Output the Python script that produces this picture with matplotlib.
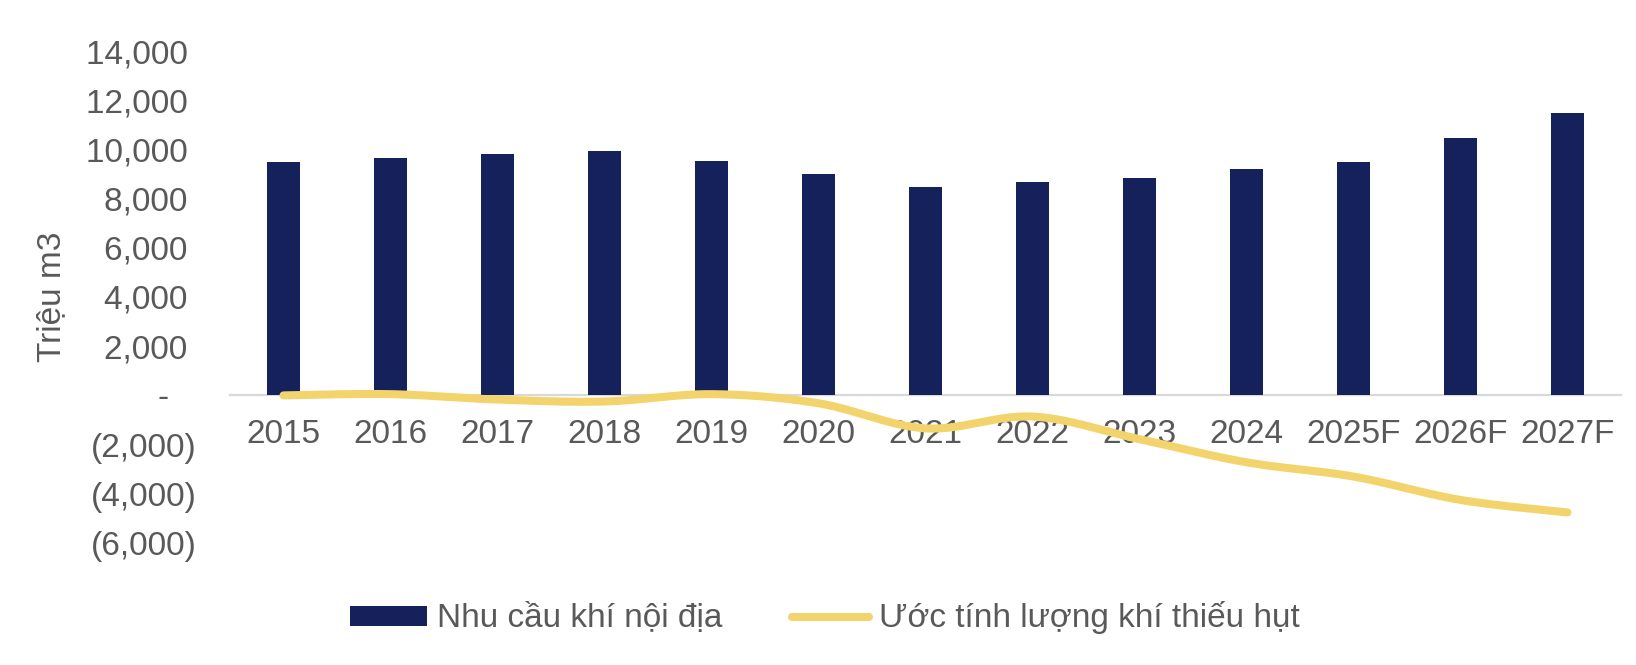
import numpy as np
import matplotlib
matplotlib.use("Agg")
import matplotlib.pyplot as plt
from matplotlib.patches import Patch
from matplotlib.lines import Line2D
from matplotlib.ticker import FuncFormatter

plt.rcParams['font.family'] = ['Liberation Sans', 'DejaVu Sans']

# Data (million m3)
years = ['2015', '2016', '2017', '2018', '2019', '2020', '2021', '2022',
         '2023', '2024', '2025F', '2026F', '2027F']
demand = [9470, 9650, 9800, 9940, 9530, 8980, 8490, 8680, 8840, 9200, 9480, 10450, 11470]
shortage = [0, 50, -170, -250, 50, -320, -1340, -860, -1780, -2720, -3300, -4250, -4760]

bar_color = '#14215B'
line_color = '#F3D36C'
text_color = '#595959'


def smooth(xs, ys, n=30):
    # Excel-style smoothed line (cubic Bezier through the points)
    p = np.column_stack([xs, ys]).astype(float)
    p = np.vstack([p[0], p, p[-1]])
    out = []
    t = np.linspace(0, 1, n)[:, None]
    for i in range(1, len(p) - 2):
        p0, p3 = p[i], p[i + 1]
        c1 = p0 + (p[i + 1] - p[i - 1]) / 6
        c2 = p3 - (p[i + 2] - p[i]) / 6
        seg = ((1 - t) ** 3) * p0 + 3 * ((1 - t) ** 2) * t * c1 + 3 * (1 - t) * t ** 2 * c2 + t ** 3 * p3
        out.append(seg if i == 1 else seg[1:])
    out = np.vstack(out)
    return out[:, 0], out[:, 1]


def fmt(v, pos):
    if abs(v) < 1e-9:
        return '-   '
    if v < 0:
        return '({:,.0f})'.format(-v)
    return '{:,.0f} '.format(v)


fig = plt.figure(figsize=(16.36, 6.65), dpi=100)
ax = fig.add_axes([0.1406, 0.1835, 0.8502, 0.7398])

x = np.arange(len(years))
ax.bar(x, demand, width=0.31, color=bar_color, zorder=2)
sx, sy = smooth(x, shortage)
ax.plot(sx, sy, color=line_color, lw=5.8, solid_capstyle='round', zorder=3)

ax.set_xlim(-0.5, len(years) - 0.5)
ax.set_ylim(-6000, 14000)
ax.set_yticks(np.arange(-6000, 14001, 2000))
ax.yaxis.set_major_formatter(FuncFormatter(fmt))
ax.set_xticks(x)
ax.set_xticklabels(years)

for s in ['top', 'right', 'left']:
    ax.spines[s].set_visible(False)
ax.spines['bottom'].set_position(('data', 0))
ax.spines['bottom'].set_color('#D9D9D9')
ax.spines['bottom'].set_linewidth(1.6)
ax.spines['bottom'].set_zorder(1)

ax.tick_params(axis='y', length=0, pad=24, labelsize=24, labelcolor=text_color)
ax.tick_params(axis='x', length=0, pad=17, labelsize=24, labelcolor=text_color)

ax.set_ylabel('Triệu m3', fontsize=24, color=text_color)
ax.yaxis.set_label_coords(-0.117, 0.5)

handles = [Patch(facecolor=bar_color, edgecolor='none'),
           Line2D([0], [0], color=line_color, lw=5.8, solid_capstyle='round')]
labels = ['Nhu cầu khí nội địa', 'Ước tính lượng khí thiếu hụt']
fig.legend(handles, labels, loc='center', bbox_to_anchor=(825 / 1636, 1 - 618 / 665),
           ncol=2, frameon=False, fontsize=24, labelcolor=text_color,
           handlelength=2.3, handleheight=0.55, handletextpad=0.3, columnspacing=2.1)

fig.savefig('out.png', dpi=100, facecolor='white')
